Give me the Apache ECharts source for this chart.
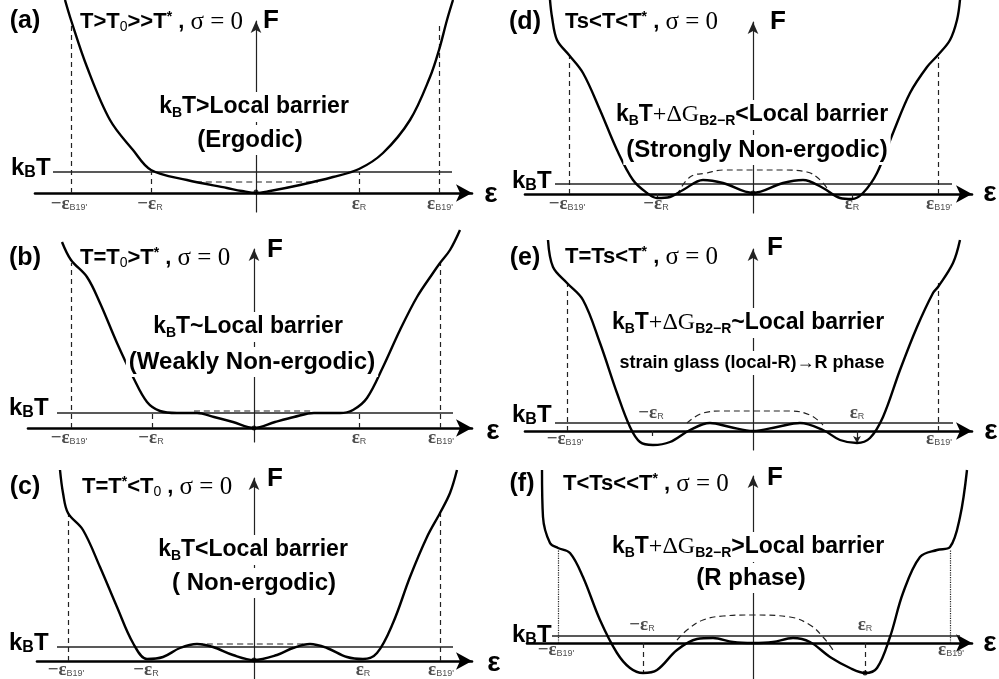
<!DOCTYPE html>
<html>
<head>
<meta charset="utf-8">
<script src="https://cdn.jsdelivr.net/npm/echarts@6/dist/echarts.min.js"></script>
<style>
html, body { margin: 0; padding: 0; background: #fff; }
#chart { width: 999px; height: 679px; }
</style>
</head>
<body>
<div id="chart"></div>
<script>
// F(eps) landscapes, [strain, F] in arbitrary units (eps = 0 at centre, F = 0 on the strain axis)
var curveA = [[-191,193],[-185,173],[-169,126],[-146,73],[-123,43],[-105,23],[-69,13],[-29,5],[-14,2],[0,0],[14,2],[44,8],[77,16],[103,24],[127,40],[154,73],[174,116],[183,143],[191,173],[197,193]];
var curveB = [[-192,186],[-183,168],[-167,151],[-154,125],[-137,85],[-121,51],[-107,26],[-94,17],[-77,15],[-57,15],[-40,11],[-21,6],[0,0],[21,6],[40,11],[60,15],[86,15],[99,18],[113,30],[129,61],[146,98],[163,131],[179,155],[186,165],[196,178],[206,198]];
var curveC = [[-194,191],[-191,168],[-186,148],[-171,131],[-154,94],[-137,54],[-121,18],[-107,2],[-91,4],[-74,13],[-57,17],[-41,14],[-21,6],[0,1],[23,6],[39,13],[56,17],[73,13],[93,4],[109,2],[123,8],[139,38],[156,84],[173,124],[186,148],[196,168],[203,191]];
var curveD = [[-203,194],[-201,177],[-196,154],[-184,139],[-170,121],[-153,84],[-136,44],[-120,14],[-106,1],[-96,-4],[-83,-3],[-70,4],[-50,14],[-30,11],[0,1],[30,11],[50,14],[70,6],[87,-4],[99,-5],[110,1],[124,21],[140,61],[157,101],[174,127],[185,139],[197,154],[204,174],[207,194]];
var curveE = [[-205,191],[-200,164],[-186,148],[-170,131],[-153,88],[-136,38],[-123,4],[-113,-11],[-100,-14],[-83,-11],[-63,1],[-43,8],[-23,4],[0,0],[24,4],[47,8],[70,1],[87,-9],[104,-12],[117,-7],[130,14],[147,61],[164,104],[180,138],[185,144],[200,168],[207,191]];
var curveF = [[-211,173],[-210,126],[-203,100],[-195,95],[-183,90],[-170,66],[-153,23],[-136,-10],[-123,-25],[-110,-30],[-96,-27],[-76,-7],[-56,4],[-40,5],[-20,1],[0,0],[20,1],[40,5],[57,1],[77,-14],[97,-25],[112,-30],[124,-25],[137,6],[150,50],[167,86],[184,93],[197,96],[207,126],[214,173]];

// dashed (averaged) paths
var dashA = [[-60,11],[0,11],[62,11]];
var dashB = [[-60,17],[0,17],[58,17]];
var dashC = [[-57,17],[0,17],[56,17]];
var dashD = [[-76,-1],[-63,17],[-46,21],[-30,24],[0,24],[30,24],[54,22],[65,16],[74,6]];
var dashE = [[-66,8],[-50,18],[-30,20],[0,20],[37,20],[57,16],[70,6]];
var dashF = [[-76,3],[-66,13],[-50,23],[-30,27],[0,28],[37,26],[57,18],[70,6],[80,-7]];

// levels and strain marks
var kbtLevel = [21, 15, 14, 10, 8, 7];
var epsB19 = [[-185,183],[-183,186],[-186,186],[-184,185],[-186,185],[-195,197]];
var epsB19Top = [168, 165, 148, 137, 148, 93];
var epsR = [[-105,103],[-102,105],[-107,109],[-96,99],[-101,104],[-110,112]];
var epsRDepth = [null, null, null, [-4,-5], [-6,-12], [-30,-30]];
var minDots = [[[0,1]], [[0,0]], [[0,1]], [[0,1]], [], [[112,-30]]];

// texts
var letters = ['(a)', '(b)', '(c)', '(d)', '(e)', '(f)'];
var titles = [
  '{m|T>T}{s|0}{m|>>T}{p|*}{m| , }{g|σ = 0}',
  '{m|T=T}{s|0}{m|>T}{p|*}{m| , }{g|σ = 0}',
  '{m|T=T}{p|*}{m|<T}{s|0}{m| , }{g|σ = 0}',
  '{m|Ts<T<T}{p|*}{m| , }{g|σ = 0}',
  '{m|T=Ts<T}{p|*}{m| , }{g|σ = 0}',
  '{m|T<Ts<<T}{p|*}{m| , }{g|σ = 0}'
];
var line1 = [
  '{m|k}{s|B}{m|T>Local barrier}',
  '{m|k}{s|B}{m|T~Local barrier}',
  '{m|k}{s|B}{m|T<Local barrier}',
  '{m|k}{s|B}{m|T}{o|+ΔG}{s|B2−R}{m|<Local barrier}',
  '{m|k}{s|B}{m|T}{o|+ΔG}{s|B2−R}{m|~Local barrier}',
  '{m|k}{s|B}{m|T}{o|+ΔG}{s|B2−R}{m|>Local barrier}'
];
var line2 = ['(Ergodic)', '(Weakly Non-ergodic)', '( Non-ergodic)', '(Strongly Non-ergodic)', 'strain glass (local-R)→R phase', '(R phase)'];

var curves = [curveA, curveB, curveC, curveD, curveE, curveF];
var dashes = [dashA, dashB, dashC, dashD, dashE, dashF];

// pixel layout of each panel
var panels = [
  {cx:256, axisY:193, xl:35,  xr:472, top:21,  bot:212, kx:[-203,196], rAbove:false, bOff:11},
  {cx:254, axisY:428, xl:28,  xr:472, top:249, bot:442, kx:[-197,199], rAbove:false, bOff:10},
  {cx:254, axisY:661, xl:37,  xr:472, top:478, bot:679, kx:[-197,199], rAbove:false, bOff:9},
  {cx:753, axisY:194, xl:525, xr:972, top:22,  bot:213, kx:[-198,199], rAbove:false, bOff:10},
  {cx:753, axisY:431, xl:525, xr:972, top:249, bot:450, kx:[-198,200], rAbove:true,  bOff:8},
  {cx:753, axisY:643, xl:527, xr:972, top:476, bot:679, kx:[-201,207], rAbove:true,  bOff:7}
];
var letterPos = [[25,21],[25,258],[25,487],[525,22],[525,258],[522,484]];
var titlePos = [[80,22],[80,258],[82,487],[565,22],[565,257],[563,484]];
var fPos = [[263,21],[267,250],[267,479],[770,22],[767,248],[767,478]];
var kbtPos = [[11,168],[9,408],[9,643],[512,181],[512,415],[512,635]];
var l1Pos = [[254,107],[248,327],[253,550],[752,115],[748,323],[748,547]];
var l2Pos = [[250,140],[252,362],[254,583],[757,150],[752,363],[751,578]];
var epsPos = [[491,194],[493,431],[494,663],[990,193],[991,431],[990,643]];

var SANS = 'Liberation Sans';
var SERIF = 'Liberation Serif';

var tickRich = {
  e: {fontFamily: SERIF, fontWeight: 'bold', fontSize: 19, color: '#222', lineHeight: 17},
  s: {fontFamily: SANS, fontSize: 9, color: '#222', verticalAlign: 'bottom', lineHeight: 11}
};

var grids = [], xAxes = [], yAxes = [], series = [], elements = [];

panels.forEach(function (p, i) {
  grids.push({left: p.xl, top: p.top, width: p.xr - p.xl, height: p.bot - p.top});
  xAxes.push({
    type: 'value', gridIndex: i, min: p.xl - p.cx, max: p.xr - p.cx,
    axisLine: {onZero: true, symbol: ['none', 'arrow'], symbolSize: [13, 16], lineStyle: {color: '#000', width: 2.6}},
    axisTick: {show: false}, axisLabel: {show: false}, splitLine: {show: false}
  });
  yAxes.push({
    type: 'value', gridIndex: i, min: -(p.bot - p.axisY), max: p.axisY - p.top,
    axisLine: {onZero: true, symbol: ['none', 'arrow'], symbolSize: [8, 12], lineStyle: {color: '#222', width: 1.2}},
    axisTick: {show: false}, axisLabel: {show: false}, splitLine: {show: false}
  });

  // vertical marks
  var lineStyleB = {type: i === 5 ? 'dotted' : [5, 4], width: 1.2, color: '#222'};
  var marks = [
    [{coord: [epsB19[i][0], 0]}, {coord: [epsB19[i][0], epsB19Top[i]], lineStyle: lineStyleB}],
    [{coord: [epsB19[i][1], 0]}, {coord: [epsB19[i][1], epsB19Top[i]], lineStyle: lineStyleB}]
  ];
  var dashR = {type: [5, 4], width: 1.2, color: '#222'};
  if (i < 2) {
    marks.push([{coord: [epsR[i][0], 0]}, {coord: [epsR[i][0], kbtLevel[i]], lineStyle: dashR}]);
    marks.push([{coord: [epsR[i][1], 0]}, {coord: [epsR[i][1], kbtLevel[i]], lineStyle: dashR}]);
  } else if (epsRDepth[i]) {
    marks.push([{coord: [epsR[i][0], 0]}, {coord: [epsR[i][0], epsRDepth[i][0]], lineStyle: dashR}]);
    if (i === 4) {
      marks.push([{coord: [epsR[i][1], 0]}, {coord: [epsR[i][1], epsRDepth[i][1]], symbol: 'arrow', symbolSize: [6, 7],
        lineStyle: {type: 'solid', width: 1.2, color: '#222'}}]);
    } else {
      marks.push([{coord: [epsR[i][1], 0]}, {coord: [epsR[i][1], epsRDepth[i][1]], lineStyle: dashR}]);
    }
  }

  series.push({
    type: 'line', xAxisIndex: i, yAxisIndex: i, symbol: 'none', silent: true, z: 3,
    data: [[p.kx[0], kbtLevel[i]], [p.kx[1], kbtLevel[i]]],
    lineStyle: {color: '#222', width: 1.3},
    markLine: {silent: true, symbol: 'none', label: {show: false}, animation: false, data: marks}
  });
  series.push({
    type: 'line', xAxisIndex: i, yAxisIndex: i, symbol: 'none', smooth: 0.4, silent: true, z: 4,
    data: dashes[i], lineStyle: {color: '#222', width: 1.2, type: [6, 4]}
  });
  series.push({
    type: 'line', xAxisIndex: i, yAxisIndex: i, symbol: 'none', smooth: 0.35, clip: false, silent: true, z: 5,
    data: curves[i], lineStyle: {color: '#000', width: 2.4}
  });
  series.push({
    type: 'scatter', xAxisIndex: i, yAxisIndex: i, symbolSize: 5, silent: true, z: 6,
    data: minDots[i], itemStyle: {color: '#000'}
  });

  // strain tick labels
  var rOff = p.rAbove ? -18 : p.bOff;
  var tl = [
    {value: [epsB19[i][0], 0], label: {formatter: "{e|−ε}{s|B19'}", offset: [-2, p.bOff]}},
    {value: [epsB19[i][1], 0], label: {formatter: "{e|ε}{s|B19'}", offset: [1, p.bOff]}},
    {value: [epsR[i][0], 0], label: {formatter: '{e|−ε}{s|R}', offset: [-1, rOff]}},
    {value: [epsR[i][1], 0], label: {formatter: '{e|ε}{s|R}', offset: [0, rOff]}}
  ];
  series.push({
    type: 'scatter', xAxisIndex: i, yAxisIndex: i, symbolSize: 1, silent: true, z: 7,
    itemStyle: {color: 'rgba(0,0,0,0)'},
    label: {show: true, position: 'inside', rich: tickRich},
    data: tl
  });

  // texts
  elements.push({type: 'text', x: letterPos[i][0], y: letterPos[i][1], z: 100, style: {
    text: letters[i], fontFamily: SANS, fontWeight: 'bold', fontSize: 25, fill: '#000', align: 'center', verticalAlign: 'middle'}});
  elements.push({type: 'text', x: titlePos[i][0], y: titlePos[i][1], z: 100, style: {
    text: titles[i], align: 'left', verticalAlign: 'middle', fill: '#000',
    rich: {
      m: {fontFamily: SANS, fontWeight: 'bold', fontSize: 22, lineHeight: 24},
      s: {fontFamily: SANS, fontSize: 14, verticalAlign: 'bottom', lineHeight: 15},
      p: {fontFamily: SANS, fontWeight: 'bold', fontSize: 14, verticalAlign: 'top', lineHeight: 13},
      g: {fontFamily: SERIF, fontSize: 25, lineHeight: 24}
    }}});
  elements.push({type: 'text', x: fPos[i][0], y: fPos[i][1], z: 100, style: {
    text: 'F', fontFamily: SANS, fontWeight: 'bold', fontSize: 26, fill: '#000', align: 'left', verticalAlign: 'middle'}});
  elements.push({type: 'text', x: kbtPos[i][0], y: kbtPos[i][1], z: 100, style: {
    text: '{m|k}{s|B}{m|T}', align: 'left', verticalAlign: 'middle', fill: '#000',
    rich: {
      m: {fontFamily: SANS, fontWeight: 'bold', fontSize: 24, lineHeight: 26},
      s: {fontFamily: SANS, fontWeight: 'bold', fontSize: 16, verticalAlign: 'bottom', lineHeight: 15}
    }}});
  elements.push({type: 'text', x: l1Pos[i][0], y: l1Pos[i][1], z: 100, style: {
    text: line1[i], align: 'center', verticalAlign: 'middle', fill: '#000', backgroundColor: '#fff', padding: [2, 3],
    rich: {
      m: {fontFamily: SANS, fontWeight: 'bold', fontSize: 23, lineHeight: 26},
      o: {fontFamily: SERIF, fontSize: 24, lineHeight: 26},
      s: {fontFamily: SANS, fontWeight: 'bold', fontSize: 14, verticalAlign: 'bottom', lineHeight: 13}
    }}});
  elements.push({type: 'text', x: l2Pos[i][0], y: l2Pos[i][1], z: 100, style: {
    text: line2[i], fontFamily: SANS, fontWeight: 'bold', fontSize: i === 4 ? 18 : 24, fill: '#000',
    align: 'center', verticalAlign: 'middle', backgroundColor: '#fff', padding: [3, 3]}});
  elements.push({type: 'text', x: epsPos[i][0], y: epsPos[i][1], z: 100, style: {
    text: 'ε', fontFamily: SANS, fontWeight: 'bold', fontSize: 28, fill: '#000', align: 'center', verticalAlign: 'middle'}});
});

var myChart = echarts.init(document.getElementById('chart'));
myChart.setOption({
  backgroundColor: '#fff',
  animation: false,
  grid: grids,
  xAxis: xAxes,
  yAxis: yAxes,
  series: series,
  graphic: {elements: elements}
});
</script>
</body>
</html>
